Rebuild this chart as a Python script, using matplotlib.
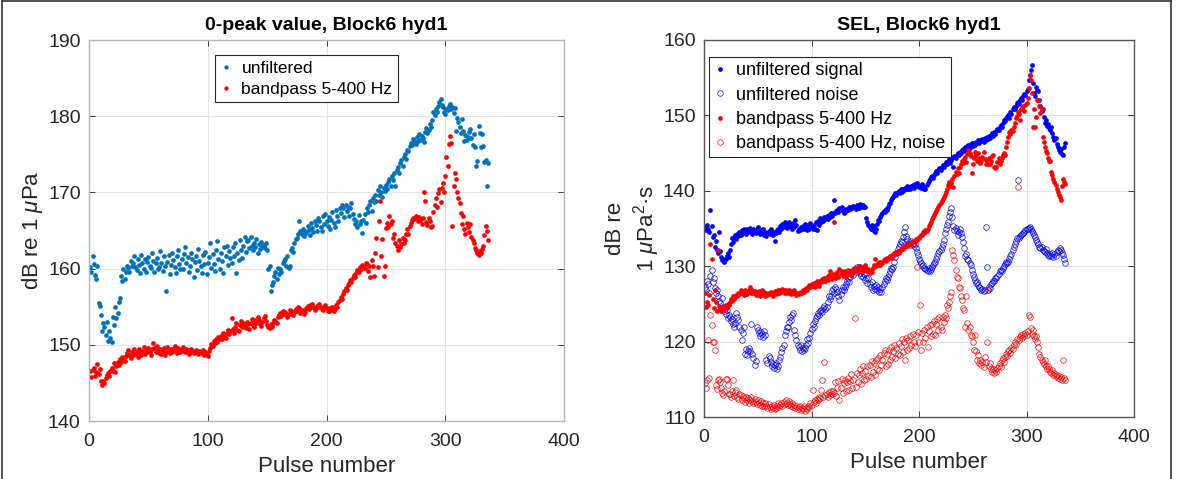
import numpy as np
import matplotlib
matplotlib.use("Agg")
import matplotlib.pyplot as plt
from matplotlib.lines import Line2D

plt.rcParams["font.family"] = ["Liberation Sans", "DejaVu Sans"]
plt.rcParams["mathtext.fontset"] = "custom"
plt.rcParams["mathtext.rm"] = "Liberation Sans"
plt.rcParams["mathtext.it"] = "Liberation Sans:italic"

# ---------------- 0-peak level (dB re 1 uPa) ----------------
peak_unfiltered = [
    160.2, 159.6, 161.6, 160.6, 159.2, 158.7, 160.3, 155.5, 155.1, 153.9,
    151.8, 152.8, 152.4, 151.3, 153.0, 150.5, 151.8, 150.9, 150.4, 153.7,
    152.6, 155.0, 153.5, 154.2, 155.6, 156.1, 159.0, 158.4, 159.9, 158.6,
    159.5, 160.3, 160.1, 159.6, 161.0, 160.4, 160.8, 161.6, 160.2, 159.8,
    161.3, 160.5, 159.4, 161.8, 160.7, 160.0, 161.2, 159.5, 160.9, 161.5,
    160.4, 160.1, 162.0, 161.0, 159.6, 160.7, 161.4, 159.9, 160.2, 162.3,
    160.8, 159.7, 161.6, 160.3, 157.0, 160.9, 161.8, 159.3, 160.5, 162.0,
    161.1, 160.2, 159.4, 161.7, 162.4, 160.6, 159.9, 161.3, 160.0, 161.9,
    162.9, 160.7, 161.5, 159.6, 160.4, 162.1, 161.2, 158.9, 160.9, 161.6,
    159.8, 162.6, 161.0, 160.3, 159.4, 161.8, 160.6, 162.2, 159.3, 160.8,
    161.5, 163.3, 160.1, 161.9, 160.6, 159.7, 162.4, 163.6, 161.2, 160.0,
    162.1, 161.0, 159.4, 162.8, 161.6, 163.0, 160.5, 162.3, 161.4, 160.8,
    162.9, 161.7, 163.3, 159.4, 162.0, 161.1, 163.7, 162.5, 161.4, 163.0,
    164.2, 162.2, 163.6, 163.8, 162.7, 164.1, 163.0, 162.4, 163.4, 162.8,
    163.9, 162.1, 163.2, 162.6, 163.5, 162.9, 163.1, 162.7, 163.4, 162.5,
    159.9, 160.3, 157.0, 157.9, 158.3, 159.0, 159.6, 158.7, 160.1, 159.3,
    160.0, 159.6, 160.8, 161.0, 161.2, 160.4, 161.6, 160.1, 160.3, 162.4,
    162.7, 162.2, 163.3, 163.9, 164.0, 164.6, 166.2, 165.0, 164.5, 165.2,
    164.3, 164.9, 164.7, 165.6, 165.1, 164.4, 166.0, 165.3, 164.8, 166.3,
    165.7, 165.0, 166.6, 166.2, 165.4, 164.9, 166.9, 165.8, 167.1, 166.3,
    165.6, 166.8, 165.2, 166.4, 167.4, 166.0, 165.5, 167.7, 166.9, 166.2,
    168.0, 167.3, 168.4, 167.9, 166.8, 168.4, 167.6, 168.1, 166.9, 167.9,
    168.6, 167.2, 166.5, 165.8, 166.2, 165.4, 167.0, 165.9, 166.3, 164.7,
    166.4, 167.1, 166.0, 167.9, 167.4, 168.3, 168.9, 167.6, 169.3, 168.7,
    169.7, 168.9, 170.3, 169.6, 170.8, 170.1, 169.4, 170.6, 170.2, 171.0,
    170.5, 171.3, 171.8, 170.9, 172.2, 171.6, 172.5, 170.8, 172.9, 173.3,
    172.6, 173.8, 174.2, 173.5, 174.6, 175.0, 174.4, 175.6, 175.4, 176.1,
    176.5, 176.2, 177.0, 176.8, 176.4, 177.3, 176.7, 177.6, 176.9, 177.4,
    177.1, 176.6, 177.9, 178.5, 177.8, 178.2, 179.0, 178.6, 179.5, 180.5,
    180.2, 181.0, 180.6, 181.4, 181.8, 182.2, 181.5, 181.2, 180.6, 180.3,
    181.0, 180.8, 181.4, 181.6, 180.9, 181.2, 180.4, 181.1, 178.1, 179.8,
    179.3, 178.6, 177.8, 179.6, 178.0, 176.8, 177.5, 176.9, 177.3, 177.9,
    178.3, 177.1, 176.2, 177.6, 175.9, 173.5, 174.1, 178.7, 177.8, 175.9,
    177.6, 176.1, 174.0, 174.2, 170.8, 173.9,
]

peak_bandpass = [
    146.6, 145.8, 146.7, 147.0, 145.9, 146.4, 147.5, 146.2, 146.8, 145.2,
    144.7, 145.3, 145.0, 145.6, 146.0, 146.3, 145.9, 146.6, 146.9, 146.5,
    147.6, 146.4, 147.2, 147.8, 147.4, 148.2, 147.7, 148.4, 148.1, 147.9,
    148.5, 148.9, 149.3, 148.7, 148.3, 149.0, 148.6, 149.4, 148.8, 149.1,
    148.4, 149.5, 148.9, 148.6, 149.2, 149.7, 148.8, 149.3, 149.0, 149.6,
    149.1, 148.7, 149.4, 150.2, 149.6, 149.0, 149.8, 149.3, 148.9, 149.5,
    148.8, 149.2, 149.6, 148.6, 149.0, 149.7, 149.3, 148.9, 149.4, 149.1,
    149.5, 149.8, 149.2, 148.9, 149.6, 149.3, 149.0, 149.4, 149.7, 149.2,
    149.1, 149.5, 149.3, 148.8, 149.0, 149.4, 149.2, 148.9, 149.1, 149.3,
    149.0, 148.8, 149.2, 149.1, 148.9, 149.3, 148.7, 149.0, 148.8, 148.5,
    149.2, 149.6, 150.1, 149.8, 150.5, 150.2, 150.8, 150.4, 151.0, 150.7,
    151.2, 150.7, 151.6, 151.1, 150.9, 151.5, 152.0, 151.4, 151.8, 153.5,
    152.1, 151.6, 152.4, 152.8, 152.0, 151.8, 152.6, 153.1, 152.3, 152.9,
    152.5, 152.2, 153.0, 152.7, 152.1, 152.9, 153.4, 152.6, 152.3, 153.2,
    152.8, 153.6, 153.3, 152.7, 152.5, 153.0, 153.5, 153.8, 153.1, 152.6,
    152.4, 152.2, 152.7, 152.3, 152.9, 153.3, 153.1, 152.8, 153.6, 153.9,
    154.2, 153.8, 154.5, 154.0, 154.3, 154.1, 153.7, 154.0, 154.6, 154.4,
    154.1, 153.9, 154.3, 154.7, 154.5, 155.0, 154.8, 154.2, 154.6, 154.4,
    154.0, 154.3, 154.8, 155.1, 154.7, 155.2, 154.9, 155.3, 155.0, 154.6,
    154.8, 155.1, 154.9, 155.4, 155.0, 154.7, 154.6, 154.9, 155.2, 154.8,
    154.5, 154.4, 154.8, 154.6, 154.9, 154.5, 154.7, 155.2, 155.0, 155.6,
    155.9, 156.3, 156.0, 156.7, 157.0, 157.4, 157.2, 157.8, 158.1, 158.5,
    158.3, 158.8, 159.2, 158.9, 159.4, 159.8, 159.5, 160.2, 159.9, 160.5,
    160.3, 160.1, 160.8, 160.6, 159.7, 160.3, 158.9, 161.1, 160.4, 159.0,
    162.0, 164.0, 160.2, 166.2, 168.9, 161.6, 163.9, 159.0, 160.3, 165.3,
    166.0, 165.5, 166.9, 165.8, 166.3, 164.0, 164.6, 163.4, 163.0, 162.5,
    163.8, 162.9, 163.2, 164.0, 163.4, 163.8, 164.6, 165.2, 164.5, 165.6,
    166.0, 166.4, 166.7, 166.5, 166.9, 166.6, 166.2, 166.8, 166.4, 165.9,
    166.6, 170.0, 168.9, 166.1, 165.7, 166.7, 166.3, 165.4, 165.6, 167.4,
    168.4, 169.3, 168.1, 169.9, 170.4, 168.8, 170.6, 171.2, 170.0, 172.1,
    174.6, 173.5, 176.3, 177.4, 176.5, 165.6, 170.8, 172.6, 171.7, 170.1,
    169.2, 168.6, 167.3, 165.8, 166.9, 165.2, 164.5, 166.0, 165.4, 164.8,
    165.9, 164.2, 163.8, 163.4, 162.7, 162.4, 162.0, 161.8, 162.3, 162.1,
    162.6, 163.0, 164.4, 165.6, 164.9, 163.8,
]

# ---------------- SEL (dB re 1 uPa^2 s) ----------------
sel_signal = [
    135.2, 134.8, 135.5, 135.0, 134.6, 137.4, 135.3, 133.9, 134.2, 132.6,
    133.4, 132.1, 131.7, 134.6, 132.0, 131.2, 130.8, 131.0, 130.6, 130.9,
    131.3, 131.8, 131.2, 132.1, 133.0, 133.7, 133.2, 133.9, 134.1, 133.6,
    134.3, 134.0, 134.6, 134.2, 134.8, 134.4, 135.0, 134.7, 134.3, 134.9,
    134.5, 134.8, 135.1, 134.6, 134.3, 135.0, 134.7, 134.4, 134.9, 135.2,
    134.6, 134.3, 134.8, 134.5, 134.9, 134.2, 134.6, 134.0, 134.4, 134.7,
    134.3, 134.9, 134.5, 134.1, 134.6, 133.3, 134.4, 134.8, 135.0, 134.6,
    135.3, 135.0, 135.6, 135.2, 135.8, 135.4, 135.1, 135.6, 135.9, 135.3,
    135.5, 135.0, 135.7, 135.2, 136.1, 135.4, 134.7, 135.0, 134.8, 135.2,
    134.9, 135.3, 135.0, 135.6, 135.1, 134.8, 135.4, 135.0, 135.7, 135.3,
    135.0, 135.5, 134.9, 135.8, 134.8, 136.0, 135.4, 136.4, 135.9, 136.3,
    136.0, 136.5, 136.2, 136.7, 136.3, 136.8, 136.5, 137.0, 136.6, 137.1,
    138.8, 137.0, 137.3, 137.5, 137.2, 137.7, 137.4, 137.8, 137.5, 137.0,
    137.2, 137.6, 137.4, 137.5, 137.8, 137.6, 137.9, 137.7, 138.0, 137.8,
    137.6, 138.1, 137.9, 137.7, 138.2, 138.0, 137.8, 138.1, 137.9, 137.9,
    136.4, 135.8, 135.5, 135.2, 134.9, 135.4, 134.8, 135.3, 134.6, 135.0,
    135.6, 136.1, 136.0, 136.5, 136.8, 137.0, 137.3, 137.2, 137.6, 137.5,
    137.9, 138.2, 138.4, 138.8, 139.0, 139.2, 139.5, 139.7, 139.4, 139.8,
    140.0, 139.7, 140.2, 139.9, 140.3, 140.1, 140.4, 140.2, 140.6, 140.3,
    140.5, 140.2, 140.6, 140.8, 140.4, 140.9, 140.7, 141.0, 140.8, 140.5,
    140.7, 140.4, 140.9, 140.6, 140.2, 140.3, 140.8, 141.1, 141.3, 141.6,
    141.8, 142.0, 141.7, 142.1, 142.3, 142.6, 142.4, 142.8, 143.0, 142.7,
    143.1, 143.4, 143.2, 143.6, 143.8, 143.5, 143.9, 144.2, 143.7, 144.1,
    144.4, 143.2, 144.6, 144.3, 144.8, 145.0, 144.7, 145.2, 145.0, 145.4,
    145.6, 145.3, 145.8, 145.5, 145.9, 146.1, 145.7, 146.2, 146.3, 146.0,
    146.4, 146.1, 146.5, 146.3, 146.7, 146.4, 146.8, 146.6, 146.9, 146.5,
    147.0, 146.7, 147.1, 146.9, 147.3, 147.0, 147.4, 147.6, 147.3, 147.8,
    147.5, 147.9, 148.2, 148.0, 148.4, 148.7, 148.5, 149.0, 149.4, 149.2,
    149.6, 149.8, 150.1, 149.7, 150.4, 150.2, 150.8, 151.1, 150.9, 151.3,
    151.6, 151.8, 151.5, 152.0, 152.3, 152.1, 152.6, 152.9, 152.7, 153.2,
    153.5, 154.7, 155.4, 156.0, 156.7, 154.3, 153.0, 152.6, 153.8, 153.4,
    153.2, 152.0, 151.2, 150.6, 150.9, 149.8, 149.0, 149.4, 148.6, 148.9,
    148.3, 148.1, 148.5, 147.7, 147.2, 146.7, 147.0, 146.2, 145.8, 145.4,
    145.1, 145.6, 144.9, 144.7, 145.8, 146.3,
]

sel_noise = [
    127.3, 126.8, 128.0, 127.6, 126.5, 128.7, 129.5, 127.9, 128.4, 127.1,
    126.4, 126.9, 126.0, 125.4, 125.1, 124.5, 125.8, 124.6, 124.0, 123.6,
    124.2, 123.1, 123.5, 123.3, 122.7, 123.0, 122.4, 121.9, 122.5, 123.8,
    123.2, 122.9, 122.0, 121.5, 120.2, 121.1, 122.0, 118.4, 119.0, 118.2,
    118.8, 119.2, 118.7, 122.4, 118.3, 117.8, 116.9, 117.4, 122.0, 121.5,
    121.2, 120.8, 121.3, 121.0, 120.6, 121.4, 120.9, 117.6, 117.2, 118.1,
    117.8, 117.3, 116.7, 117.0, 116.5, 116.9, 117.2, 116.4, 116.7, 117.5,
    118.0, 118.6, 119.1, 119.5, 120.9, 121.4, 121.9, 122.0, 122.6, 123.2,
    122.8, 123.5, 123.8, 121.6, 120.9, 120.2, 119.6, 119.3, 118.9, 119.5,
    118.7, 119.2, 118.9, 119.1, 119.6, 120.3, 119.8, 120.5, 121.2, 121.7,
    122.4, 122.0, 122.7, 123.1, 123.4, 123.8, 123.5, 124.0, 124.2, 123.9,
    124.4, 124.7, 124.3, 124.6, 125.2, 126.0, 125.6, 126.1, 126.7, 127.0,
    126.5, 127.3, 127.0, 126.6, 126.0, 125.5, 126.3, 126.8, 127.2, 126.9,
    127.3, 127.7, 128.1, 128.4, 127.9, 128.6, 129.0, 129.4, 128.8, 129.6,
    129.2, 129.9, 129.5, 129.9, 129.1, 128.7, 129.3, 128.6, 128.9, 128.2,
    128.4, 127.8, 128.4, 127.6, 127.2, 127.9, 126.9, 127.4, 127.0, 127.5,
    126.8, 127.2, 126.6, 127.0, 126.6, 127.3, 127.7, 128.0, 128.4, 128.2,
    128.6, 129.0, 129.4, 129.8, 129.6, 129.9, 130.5, 131.2, 131.8, 132.3,
    132.6, 132.9, 133.4, 133.2, 133.9, 134.5, 135.2, 134.0, 133.6, 133.0,
    133.2, 132.8, 133.4, 133.0, 132.7, 133.0, 132.4, 131.9, 131.5, 131.0,
    130.7, 130.4, 130.0, 130.2, 129.8, 129.6, 129.5, 129.3, 129.7, 129.3,
    129.6, 129.9, 130.2, 130.4, 130.6, 131.0, 131.3, 131.7, 132.0, 132.1,
    132.6, 133.0, 133.5, 134.4, 134.9, 135.5, 135.9, 136.6, 137.2, 137.7,
    136.5, 135.3, 134.8, 135.1, 134.7, 134.2, 134.5, 134.9, 134.4, 133.9,
    133.2, 132.4, 131.3, 131.6, 131.0, 130.8, 130.4, 130.1, 129.5, 129.0,
    128.6, 128.2, 127.8, 127.9, 127.5, 127.3, 127.1, 126.9, 127.0, 126.7,
    126.8, 135.2, 129.9, 126.9, 127.3, 127.1, 127.6, 127.8, 128.0, 128.1,
    128.4, 128.4, 128.7, 129.0, 129.3, 129.5, 129.4, 129.7, 130.0, 130.3,
    130.5, 130.4, 130.6, 130.9, 131.3, 131.6, 132.1, 132.6, 133.0, 133.3,
    133.7, 141.4, 133.8, 134.0, 134.2, 134.3, 134.4, 134.6, 134.8, 134.9,
    135.0, 135.1, 135.2, 135.0, 134.7, 134.4, 134.1, 133.9, 133.5, 133.2,
    132.9, 132.6, 132.4, 132.6, 132.2, 132.0, 131.9, 132.3, 131.7, 131.5,
    131.3, 131.6, 131.3, 131.8, 131.2, 131.6, 131.4, 131.9, 132.2, 132.0,
    132.4, 132.1, 131.8, 131.5, 131.0, 130.4,
]

sel_bandpass = [
    126.5, 124.6, 125.3, 124.9, 126.2, 133.0, 131.0, 125.6, 124.4, 126.9,
    125.2, 124.0, 132.1, 124.7, 124.3, 124.0, 124.5, 124.2, 124.6, 124.8,
    124.4, 125.0, 124.8, 125.3, 125.6, 125.4, 126.0, 125.7, 125.9, 126.2,
    126.0, 126.5, 126.3, 126.8, 126.4, 126.7, 126.2, 126.9, 126.5, 126.3,
    126.6, 126.8, 127.2, 126.5, 126.9, 126.4, 126.7, 126.2, 126.6, 126.3,
    126.7, 126.1, 126.4, 126.8, 126.3, 126.6, 126.0, 126.4, 126.2, 126.5,
    126.3, 126.6, 126.4, 126.1, 126.5, 126.7, 126.3, 126.6, 126.8, 126.5,
    126.9, 126.6, 127.0, 126.8, 126.5, 126.9, 126.7, 126.4, 126.8, 126.6,
    126.3, 126.7, 126.5, 126.8, 126.4, 126.2, 126.5, 126.3, 126.4, 126.6,
    126.5, 126.8, 126.6, 126.9, 127.1, 126.8, 127.2, 127.5, 127.3, 127.7,
    127.4, 127.8, 127.2, 127.6, 128.0, 127.7, 127.4, 128.1, 127.9, 128.3,
    128.0, 128.4, 128.1, 128.6, 128.2, 128.8, 129.4, 128.7, 128.3, 128.9,
    135.8, 128.5, 128.9, 129.2, 128.6, 129.6, 128.9, 129.3, 128.7, 129.0,
    129.3, 128.6, 128.9, 129.5, 129.1, 129.4, 128.8, 129.2, 129.6, 129.4,
    129.8, 129.5, 129.2, 129.7, 130.0, 129.6, 129.9, 129.4, 129.7, 130.1,
    129.8, 129.4, 129.6, 129.1, 129.5, 129.2, 129.7, 130.2, 130.9, 130.0,
    130.3, 130.1, 130.5, 130.2, 130.6, 130.4, 130.8, 130.9, 130.7, 131.1,
    130.9, 131.2, 131.4, 131.1, 131.5, 131.3, 131.7, 131.6, 131.9, 132.0,
    131.8, 132.2, 132.1, 132.4, 132.3, 132.6, 132.5, 132.8, 132.7, 133.0,
    132.8, 133.1, 133.0, 133.3, 133.4, 133.2, 133.6, 133.5, 133.8, 133.7,
    134.0, 134.2, 134.1, 134.5, 134.4, 134.8, 134.7, 135.0, 135.3, 135.6,
    135.9, 136.2, 136.5, 136.8, 137.0, 137.3, 137.6, 137.9, 138.1, 138.4,
    138.6, 138.9, 139.2, 139.5, 139.8, 140.3, 140.8, 141.2, 140.6, 141.0,
    141.6, 140.5, 141.9, 142.5, 142.2, 143.0, 142.4, 143.2, 143.6, 144.0,
    143.7, 144.2, 144.5, 143.8, 144.9, 145.4, 145.0, 144.6, 142.3, 143.6,
    144.4, 145.2, 144.8, 144.0, 145.0, 144.3, 143.7, 143.9, 144.5, 145.1,
    144.2, 143.5, 144.0, 143.6, 144.4, 143.6, 143.9, 144.6, 144.7, 143.2,
    143.0, 143.2, 143.8, 144.3, 143.5, 144.0, 144.4, 144.7, 145.0, 144.7,
    145.8, 146.5, 147.2, 147.8, 147.5, 148.1, 147.9, 148.4, 149.0, 149.6,
    149.9, 150.5, 150.2, 149.4, 150.8, 151.0, 151.2, 150.6, 151.4, 151.6,
    152.3, 153.6, 155.4, 154.7, 153.0, 148.5, 150.9, 148.5, 149.8, 152.0,
    152.0, 151.2, 150.3, 150.9, 147.2, 146.5, 145.8, 145.3, 145.0, 144.4,
    144.0, 143.9, 142.5, 142.1, 141.6, 141.2, 140.8, 140.3, 139.9, 139.5,
    139.2, 138.8, 140.6, 141.5, 141.2, 140.9,
]

sel_bandpass_noise = [
    114.5, 113.8, 114.9, 120.2, 115.2, 123.5, 122.2, 119.9, 120.0, 118.9,
    114.2, 113.7, 114.9, 115.1, 114.6, 113.8, 113.2, 112.9, 113.5, 115.0,
    115.1, 114.3, 113.0, 113.1, 112.6, 113.4, 114.9, 112.8, 113.3, 113.6,
    112.7, 112.4, 113.1, 112.9, 112.3, 112.8, 112.5, 112.0, 112.6, 112.2,
    112.5, 111.9, 112.3, 112.7, 112.1, 111.8, 112.4, 112.0, 111.7, 112.2,
    111.9, 111.6, 112.1, 111.5, 111.8, 111.4, 111.9, 111.4, 111.2, 111.7,
    111.3, 111.0, 111.5, 111.2, 111.6, 111.1, 111.2, 111.5, 111.8, 111.3,
    111.6, 111.9, 111.5, 112.0, 111.7, 112.2, 111.8, 111.6, 112.1, 111.7,
    111.5, 111.9, 111.3, 111.6, 111.2, 111.4, 111.0, 111.3, 111.4, 110.9,
    111.2, 111.0, 111.4, 110.8, 111.2, 111.1, 111.5, 111.3, 111.8, 111.6,
    113.6, 112.0, 112.3, 111.9, 112.4, 112.2, 112.7, 112.5, 113.6, 114.9,
    112.6, 117.3, 112.9, 113.1, 112.7, 113.3, 112.9, 113.4, 113.0, 113.5,
    113.2, 114.6, 112.8, 113.9, 114.8, 112.3, 113.9, 115.0, 113.2, 114.5,
    114.9, 113.4, 114.6, 115.2, 113.6, 114.8, 115.7, 113.9, 114.9, 123.1,
    114.0, 115.9, 114.6, 115.6, 116.3, 114.4, 115.9, 116.7, 114.9, 116.1,
    115.0, 116.8, 115.4, 116.9, 115.3, 117.4, 116.0, 117.2, 115.6, 117.5,
    116.3, 117.8, 116.2, 118.2, 116.9, 117.6, 118.5, 118.9, 116.8, 118.4,
    117.0, 118.9, 117.5, 119.3, 117.9, 118.7, 119.6, 117.8, 119.2, 118.3,
    119.8, 118.2, 119.4, 120.4, 118.6, 119.9, 117.6, 120.5, 118.9, 120.2,
    119.1, 120.8, 119.6, 121.0, 120.0, 119.4, 120.9, 129.9, 121.3, 119.9,
    124.9, 118.9, 121.2, 120.0, 121.6, 120.5, 121.9, 119.3, 121.4, 122.2,
    120.7, 122.3, 121.0, 122.7, 120.9, 122.4, 123.0, 121.5, 123.2, 122.0,
    121.5, 123.3, 122.6, 123.5, 123.1, 124.9, 124.4, 125.3, 126.0, 126.6,
    132.1, 131.5, 130.8, 129.5, 128.6, 128.4, 127.3, 127.1, 126.0, 125.5,
    124.4, 124.2, 122.0, 126.0, 122.5, 121.6, 122.0, 120.9, 120.7, 120.0,
    118.9, 120.9, 118.7, 117.6, 118.2, 117.1, 117.5, 116.9, 117.3, 116.6,
    118.0, 117.3, 120.0, 126.8, 116.7, 117.1, 116.4, 116.0, 116.3, 115.8,
    116.2, 116.0, 116.5, 116.8, 117.2, 116.6, 117.5, 117.8, 117.3, 118.0,
    118.4, 118.1, 118.7, 118.9, 118.5, 119.2, 119.0, 119.6, 120.0, 119.7,
    120.4, 140.5, 120.2, 120.6, 120.9, 120.5, 121.0, 120.7, 121.2, 120.9,
    121.4, 123.5, 123.3, 121.8, 121.0, 121.5, 120.8, 120.4, 120.7, 120.0,
    119.3, 118.4, 118.0, 117.6, 117.3, 117.0, 117.5, 116.8, 116.4, 116.7,
    116.3, 116.0, 115.8, 116.2, 115.6, 115.8, 115.4, 115.6, 115.2, 115.5,
    115.1, 115.3, 114.9, 117.5, 115.2, 114.9,
]

x_ticks = [0, 100, 200, 300, 400]
peak_yticks = [140, 150, 160, 170, 180, 190]
sel_yticks = [110, 120, 130, 140, 150, 160]

MATLAB_BLUE = "#0072BD"


def pulses(values):
    return np.arange(1, len(values) + 1)


def style_axes(ax, yticks, spine_color):
    ax.set_xlim(0, 400)
    ax.set_ylim(yticks[0], yticks[-1])
    ax.set_xticks(x_ticks)
    ax.set_yticks(yticks)
    ax.grid(True, color="#e3e3e3", linewidth=0.8)
    ax.set_axisbelow(True)
    ax.tick_params(direction="in", length=4, width=0.6, labelsize=14,
                   colors="#262626", top=True, right=True, pad=6)
    ax.tick_params(axis="x", pad=9)
    for sp in ax.spines.values():
        sp.set_color(spine_color)
        sp.set_linewidth(1.0)
    ax.set_xlabel("Pulse number", fontsize=16, color="#262626", labelpad=4)


fig = plt.figure(figsize=(11.83, 4.79), dpi=100)

# ---- left panel: 0-peak value ----
ax1 = fig.add_axes([89 / 1183, 1 - 421 / 479, 475 / 1183, 381 / 479])
ax1.plot(pulses(peak_unfiltered), peak_unfiltered, "o", color=MATLAB_BLUE,
         ms=3.4, mew=0, label="unfiltered")
ax1.plot(pulses(peak_bandpass), peak_bandpass, "o", color="red",
         ms=3.4, mew=0, label="bandpass 5-400 Hz")
style_axes(ax1, peak_yticks, "#b4b4b4")
ax1.set_ylabel(r"dB re 1 $\mu$Pa", fontsize=16, color="#262626", labelpad=2)
ax1.set_title("0-peak value, Block6 hyd1", fontsize=14, fontweight="bold", pad=7)
leg1 = ax1.legend(loc="upper left", bbox_to_anchor=(0.266, 0.96), fontsize=12.5,
                  handlelength=0.6, handletextpad=0.6, borderpad=0.3,
                  labelspacing=0.35, fancybox=False, framealpha=1,
                  markerscale=0.9, borderaxespad=0)
leg1.get_frame().set_edgecolor("#262626")
leg1.get_frame().set_linewidth(0.8)

# ---- right panel: SEL ----
ax2 = fig.add_axes([704 / 1183, 1 - 417 / 479, 430 / 1183, 377 / 479])
ax2.plot(pulses(sel_signal), sel_signal, "o", color="blue",
         ms=3.4, mew=0, label="unfiltered signal")
ax2.plot(pulses(sel_noise), sel_noise, "o", mfc="none", mec="blue",
         ms=4.0, mew=0.5, label="unfiltered noise")
ax2.plot(pulses(sel_bandpass), sel_bandpass, "o", color="red",
         ms=3.4, mew=0, label="bandpass 5-400 Hz")
ax2.plot(pulses(sel_bandpass_noise), sel_bandpass_noise, "o", mfc="none",
         mec="red", ms=4.0, mew=0.5, label="bandpass 5-400 Hz, noise")
style_axes(ax2, sel_yticks, "#555555")
ax2.set_ylabel("dB re\n" + r"1 $\mu$Pa$^2$·s", fontsize=16, color="#262626",
               labelpad=1)
ax2.set_title("SEL, Block6 hyd1", fontsize=14, fontweight="bold", pad=7)
leg2 = ax2.legend(loc="upper left", bbox_to_anchor=(0.012, 0.955), fontsize=13,
                  handlelength=0.6, handletextpad=0.6, borderpad=0.3,
                  labelspacing=0.4, fancybox=False, framealpha=1,
                  borderaxespad=0)
leg2.get_frame().set_edgecolor("#262626")
leg2.get_frame().set_linewidth(0.8)

# outer frame of the figure
frame = [Line2D([0.002, 0.002], [0, 0.998], color="#333333", lw=1.2),
         Line2D([0.002, 0.99], [0.998, 0.998], color="#333333", lw=1.2),
         Line2D([0.99, 0.99], [0, 0.998], color="#333333", lw=1.2)]
for ln in frame:
    ln.set_transform(fig.transFigure)
    fig.lines.append(ln)

fig.savefig("out.png", dpi=100, facecolor="white")
